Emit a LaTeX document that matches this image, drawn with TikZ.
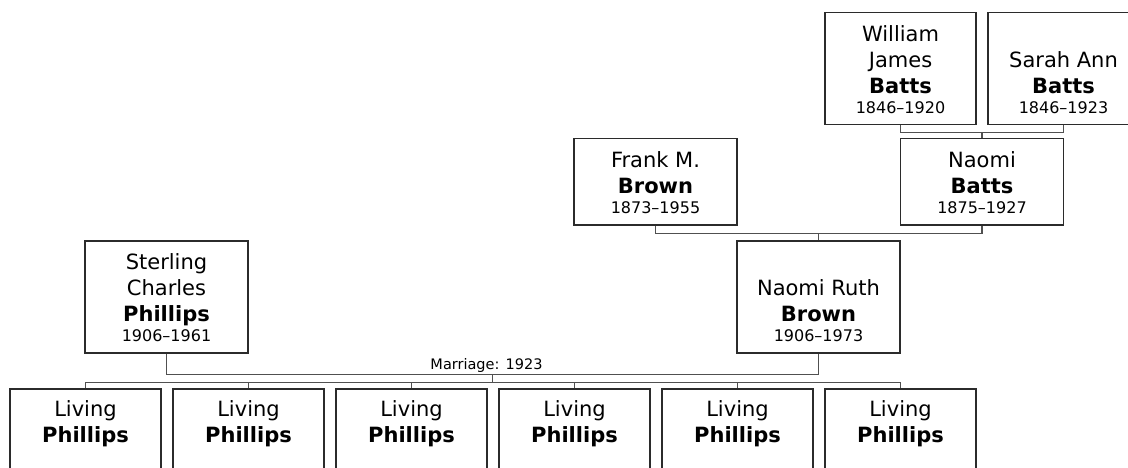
\documentclass[tikz,border=0pt]{standalone}
\usepackage{fontspec}
\setmainfont{DejaVu Sans}
\usepackage{tikz}
\usetikzlibrary{calc, positioning}
\definecolor{BoxLine}{HTML}{2B2B2B}
\definecolor{LinkLine}{HTML}{505050}
\newcommand{\yrs}[1]{{\fontsize{16}{20}\selectfont #1}}
\tikzset{
    % Person boxes, text sits on the bottom edge
    person/.style={
        rectangle,
        draw=BoxLine,
        fill=white,
        line width=1.5pt,
        anchor=north,
        align=center,
        inner xsep=0pt,
        inner ysep=0pt,
        minimum width=163pt,
        text height=75pt,
        text depth=11pt,
        font=\fontsize{21}{26}\selectfont
    },
    person tall/.style={
        person,
        text height=101pt
    },
    child box/.style={
        person,
        minimum width=151pt,
        text height=54pt,
        text depth=100pt
    },
    link style/.style={
        draw=LinkLine,
        line width=1.8pt
    },
    marriage label/.style={
        anchor=base,
        inner sep=0pt,
        font=\fontsize{14.5}{17}\selectfont
    }
}
\begin{document}
\begin{tikzpicture}[x=1pt, y=-1pt]
        \useasboundingbox (0,0) rectangle (1128,468);

        % Batts grandparents (top right)
        \node[person tall, minimum width=151pt] (william-batts) at (900.5, 12) {William\\James\\\textbf{Batts}\\[-6pt]\yrs{1846–1920}};
        \node[person tall, minimum width=151pt] (sarah-batts) at (1063.5, 12) {Sarah Ann\\\textbf{Batts}\\[-6pt]\yrs{1846–1923}};

        % Parents of Naomi Ruth
        \node[person] (frank-brown) at (655.5, 138) {Frank M.\\\textbf{Brown}\\[-6pt]\yrs{1873–1955}};
        \node[person] (naomi-batts) at (982, 138) {Naomi\\\textbf{Batts}\\[-6pt]\yrs{1875–1927}};

        % The couple
        \node[person tall] (sterling-phillips) at (166.5, 240) {Sterling\\Charles\\\textbf{Phillips}\\[-6pt]\yrs{1906–1961}};
        \node[person tall] (naomi-brown) at (818.5, 240) {Naomi Ruth\\\textbf{Brown}\\[-6pt]\yrs{1906–1973}};

        % Children
        \foreach \i in {1,...,6}
            \node[child box] (child-\i) at ({85.5+163*(\i-1)}, 388) {Living\\\textbf{Phillips}};

        % Links
        \path (william-batts.south) ++(0,7) coordinate (batts-bar);
        \draw[link style] (william-batts.south) -- (batts-bar) -| (sarah-batts.south);
        \draw[link style] (naomi-batts.north) -- (naomi-batts.north |- batts-bar);

        \path (naomi-batts.south) ++(0,8) coordinate (brown-bar);
        \draw[link style] (frank-brown.south) |- (brown-bar) -- (naomi-batts.south);
        \draw[link style] (naomi-brown.north) -- (naomi-brown.north |- brown-bar);

        \path (naomi-brown.south) ++(0,21) coordinate (phillips-bar);
        \draw[link style] (sterling-phillips.south) |- (phillips-bar) -- (naomi-brown.south);
        \coordinate (phillips-mid) at ($(sterling-phillips.south |- phillips-bar)!0.5!(phillips-bar)$);
        \node[marriage label] (marriage) at ([xshift=-6pt, yshift=5pt]phillips-mid) {Marriage: 1923};

        \path (phillips-mid) ++(0,8) coordinate (children-bar);
        \draw[link style] (phillips-mid) -- (children-bar);
        \draw[link style] (child-1.north) |- (children-bar) -| (child-6.north);
        \foreach \i in {2,...,5}
            \draw[link style] (child-\i.north) -- (child-\i.north |- children-bar);
    \end{tikzpicture}
\end{document}
